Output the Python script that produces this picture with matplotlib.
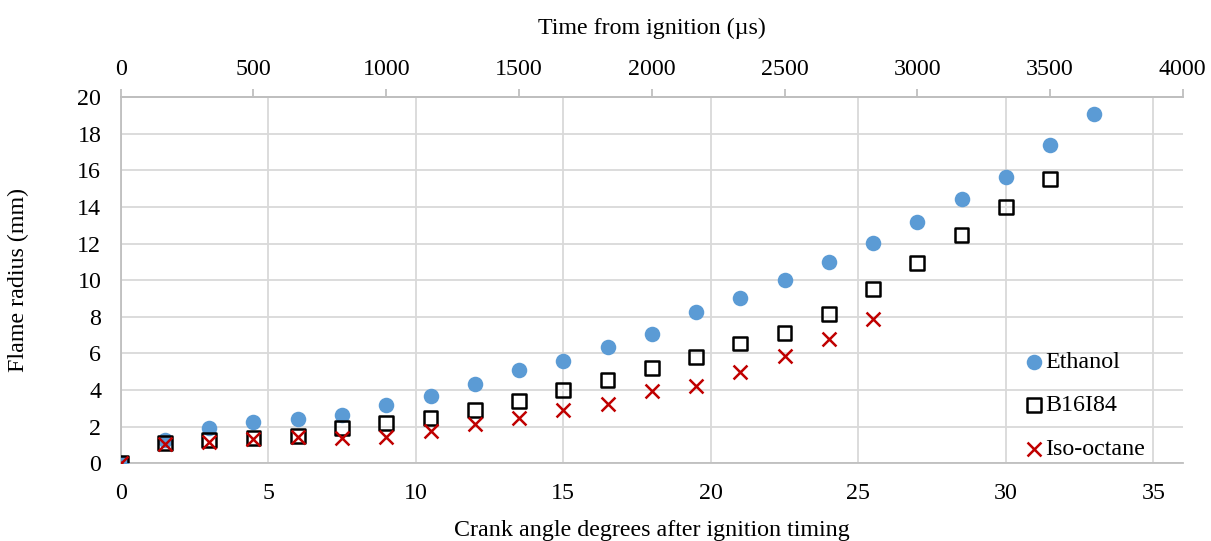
import matplotlib
matplotlib.use("Agg")
import matplotlib.pyplot as plt

plt.rcParams['font.family'] = ['Liberation Serif', 'DejaVu Serif']

# crank angle degrees after ignition (1.5 CAD steps)
cad_ethanol = [0, 1.5, 3, 4.5, 6, 7.5, 9, 10.5, 12, 13.5, 15, 16.5, 18, 19.5, 21,
               22.5, 24, 25.5, 27, 28.5, 30, 31.5, 33]
r_ethanol = [0, 1.27, 1.95, 2.24, 2.42, 2.64, 3.17, 3.66, 4.33, 5.08, 5.61, 6.34,
             7.08, 8.25, 9.01, 10.02, 11.02, 12.04, 13.18, 14.41, 15.65, 17.36, 19.09]

cad_b16 = [0, 1.5, 3, 4.5, 6, 7.5, 9, 10.5, 12, 13.5, 15, 16.5, 18, 19.5, 21,
           22.5, 24, 25.5, 27, 28.5, 30, 31.5]
r_b16 = [0, 1.13, 1.26, 1.37, 1.51, 1.91, 2.19, 2.49, 2.91, 3.42, 3.99, 4.53,
         5.19, 5.79, 6.54, 7.14, 8.14, 9.52, 10.94, 12.48, 14.02, 15.52]

cad_iso = [0, 1.5, 3, 4.5, 6, 7.5, 9, 10.5, 12, 13.5, 15, 16.5, 18, 19.5, 21,
           22.5, 24, 25.5]
r_iso = [0, 1.05, 1.18, 1.33, 1.42, 1.40, 1.46, 1.77, 2.13, 2.46, 2.91, 3.22,
         3.95, 4.22, 4.97, 5.88, 6.77, 7.90]

xlim = (0, 36)
time_lim = (0, 4000)   # 36 CAD = 4000 us at 1500 rpm
grid_col = '#d9d9d9'
fs = 17.3

fig = plt.figure(figsize=(12.11, 5.41), dpi=100)
ax = fig.add_axes([0.0997, 0.1436, 0.877, 0.677])

ax.scatter(cad_ethanol, r_ethanol, s=125, marker='o', color='#5B9BD5',
           linewidths=0, label='Ethanol', zorder=3)
ax.scatter(cad_b16, r_b16, s=100, marker='s', facecolors='none',
           edgecolors='black', linewidths=1.8, label='B16I84', zorder=4)
ax.scatter(cad_iso, r_iso, s=100, marker='x', color='#C00000',
           linewidths=1.8, label='Iso-octane', zorder=5)

ax.set_xlim(*xlim)
ax.set_ylim(0, 20)
ax.set_xticks(range(0, 36, 5))
ax.set_yticks(range(0, 21, 2))
ax.grid(True, color=grid_col, linewidth=1.3)
ax.set_axisbelow(True)
ax.tick_params(axis='x', length=0, labelsize=fs, pad=14)
ax.tick_params(axis='y', length=0, labelsize=fs, pad=14)
ax.spines['right'].set_visible(False)
for side in ['left', 'bottom', 'top']:
    ax.spines[side].set_color('#bfbfbf')
    ax.spines[side].set_linewidth(1.3)
ax.set_xlabel('Crank angle degrees after ignition timing', fontsize=fs, labelpad=12)
ax.set_ylabel('Flame radius (mm)', fontsize=fs)
ax.yaxis.set_label_coords(-0.086, 0.5)

top = ax.twiny()
top.set_xlim(*time_lim)
top.set_xticks(range(0, 4001, 500))
top.tick_params(axis='x', length=6, width=1.3, color='#bfbfbf', labelsize=fs, pad=6)
for side in ['right', 'left', 'bottom']:
    top.spines[side].set_visible(False)
top.spines['top'].set_color('#bfbfbf')
top.spines['top'].set_linewidth(1.3)
top.set_xlabel('Time from ignition (µs)', fontsize=fs, labelpad=18)

ax.legend(loc='lower right', bbox_to_anchor=(0.978, -0.03), frameon=False,
          fontsize=fs, handletextpad=-0.15, labelspacing=0.9, handlelength=1.2,
          borderaxespad=0.2)

fig.savefig('out.png', dpi=100)
